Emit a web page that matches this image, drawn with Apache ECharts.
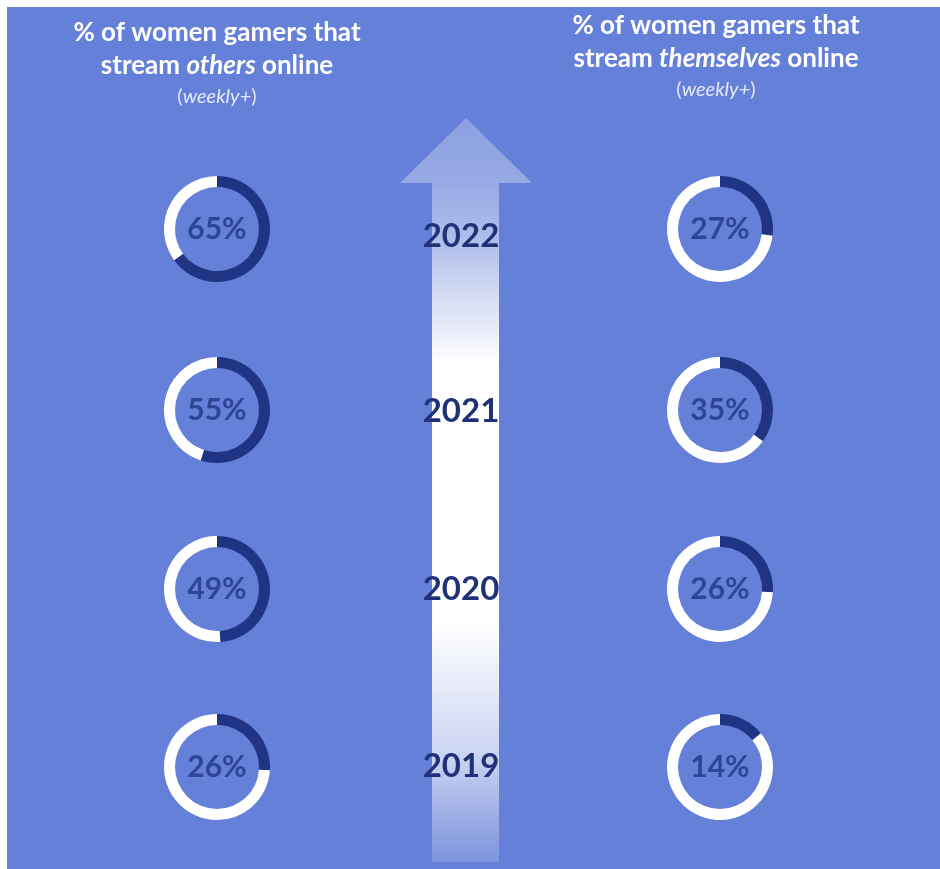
<!DOCTYPE html>
<html>
<head>
<meta charset="utf-8">
<script src="https://cdn.jsdelivr.net/npm/echarts@6/dist/echarts.min.js"></script>
<style>
html,body{margin:0;padding:0;background:#ffffff;}
#chart{width:940px;height:869px;}
</style>
</head>
<body>
<div id="chart"></div>
<script>
// ---- data ----
var years = ['2022', '2021', '2020', '2019'];
var streamOthers = [65, 55, 49, 26];
var streamThemselves = [27, 35, 26, 14];
var leftTitle = ['% of women gamers that', 'stream ', 'others', ' online', 'weekly+'];
var rightTitle = ['% of women gamers that', 'stream ', 'themselves', ' online', 'weekly+'];

// ---- layout ----
var FONT = 'Lato, "Open Sans", sans-serif';
var BG = '#6580D8';
var DARK = '#1F3483';
var LABEL = '#2D4594';
var rowY = [229, 410, 589, 767];
var yearY = [236, 411, 589, 766];
var leftX = 217, rightX = 720;
var rIn = 42, rOut = 53;

var chart = echarts.init(document.getElementById('chart'), null, {renderer: 'canvas'});

function ring(cx, cy, v) {
  return {
    type: 'pie',
    silent: true,
    center: [cx, cy],
    radius: [rIn, rOut],
    startAngle: 90,
    clockwise: true,
    avoidLabelOverlap: false,
    animation: false,
    labelLine: {show: false},
    emphasis: {disabled: true},
    data: [
      {value: v, name: 'a', itemStyle: {color: DARK},
       label: {show: true, position: 'center', formatter: v + '%',
               color: LABEL, fontFamily: FONT, fontWeight: 'bold', fontSize: 30}},
      {value: 100 - v, name: 'b', itemStyle: {color: '#ffffff'}, label: {show: false}}
    ]
  };
}

var series = [];
for (var i = 0; i < years.length; i++) {
  series.push(ring(leftX, rowY[i], streamOthers[i]));
  series.push(ring(rightX, rowY[i], streamThemselves[i]));
}

function titleBlock(cx, y0, t) {
  var rich = {
    b: {font: 'bold 26px ' + FONT, fill: '#ffffff'},
    i: {font: 'italic bold 26px ' + FONT, fill: '#ffffff'},
    p: {fontFamily: FONT, fontSize: 20, fill: '#E3E8F8'},
    pi: {fontFamily: FONT, fontStyle: 'italic', fontSize: 20, fill: '#E3E8F8'}
  };
  return [
    {type: 'text', silent: true, style: {x: cx, y: y0, text: t[0], align: 'center', verticalAlign: 'middle',
      font: 'bold 26px ' + FONT, fill: '#ffffff'}},
    {type: 'text', silent: true, style: {x: cx, y: y0 + 33, align: 'center', verticalAlign: 'middle',
      text: '{b|' + t[1] + '}{i|' + t[2] + '}{b|' + t[3] + '}', rich: rich}},
    {type: 'text', silent: true, style: {x: cx, y: y0 + 64, align: 'center', verticalAlign: 'middle',
      text: '{p|(}{pi|' + t[4] + '}{p|)}', rich: rich}}
  ];
}

var graphics = [
  {type: 'rect', silent: true, z: -10, shape: {x: 7, y: 7, width: 933, height: 862}, style: {fill: BG}},
  {type: 'polygon', silent: true, z: -5,
   shape: {points: [[466, 118], [532, 183], [499, 183], [499, 862], [432, 862], [432, 183], [400, 183]]},
   style: {fill: new echarts.graphic.LinearGradient(0, 0, 0, 1, [
     {offset: 0, color: 'rgba(255,255,255,0.25)'},
     {offset: 0.09, color: 'rgba(255,255,255,0.33)'},
     {offset: 0.17, color: 'rgba(255,255,255,0.5)'},
     {offset: 0.33, color: 'rgba(255,255,255,1)'},
     {offset: 0.68, color: 'rgba(255,255,255,1)'},
     {offset: 0.86, color: 'rgba(255,255,255,0.65)'},
     {offset: 1, color: 'rgba(255,255,255,0.15)'}
   ])}}
];
graphics = graphics.concat(titleBlock(217, 33, leftTitle));
graphics = graphics.concat(titleBlock(716, 26, rightTitle));
for (var j = 0; j < years.length; j++) {
  graphics.push({type: 'text', silent: true, z: 10,
    style: {x: 461, y: yearY[j], text: years[j], align: 'center', verticalAlign: 'middle',
            font: 'bold 33px ' + FONT, fill: '#1F3278'}});
}

chart.setOption({
  animation: false,
  backgroundColor: '#ffffff',
  graphic: graphics,
  series: series
});
</script>
</body>
</html>
